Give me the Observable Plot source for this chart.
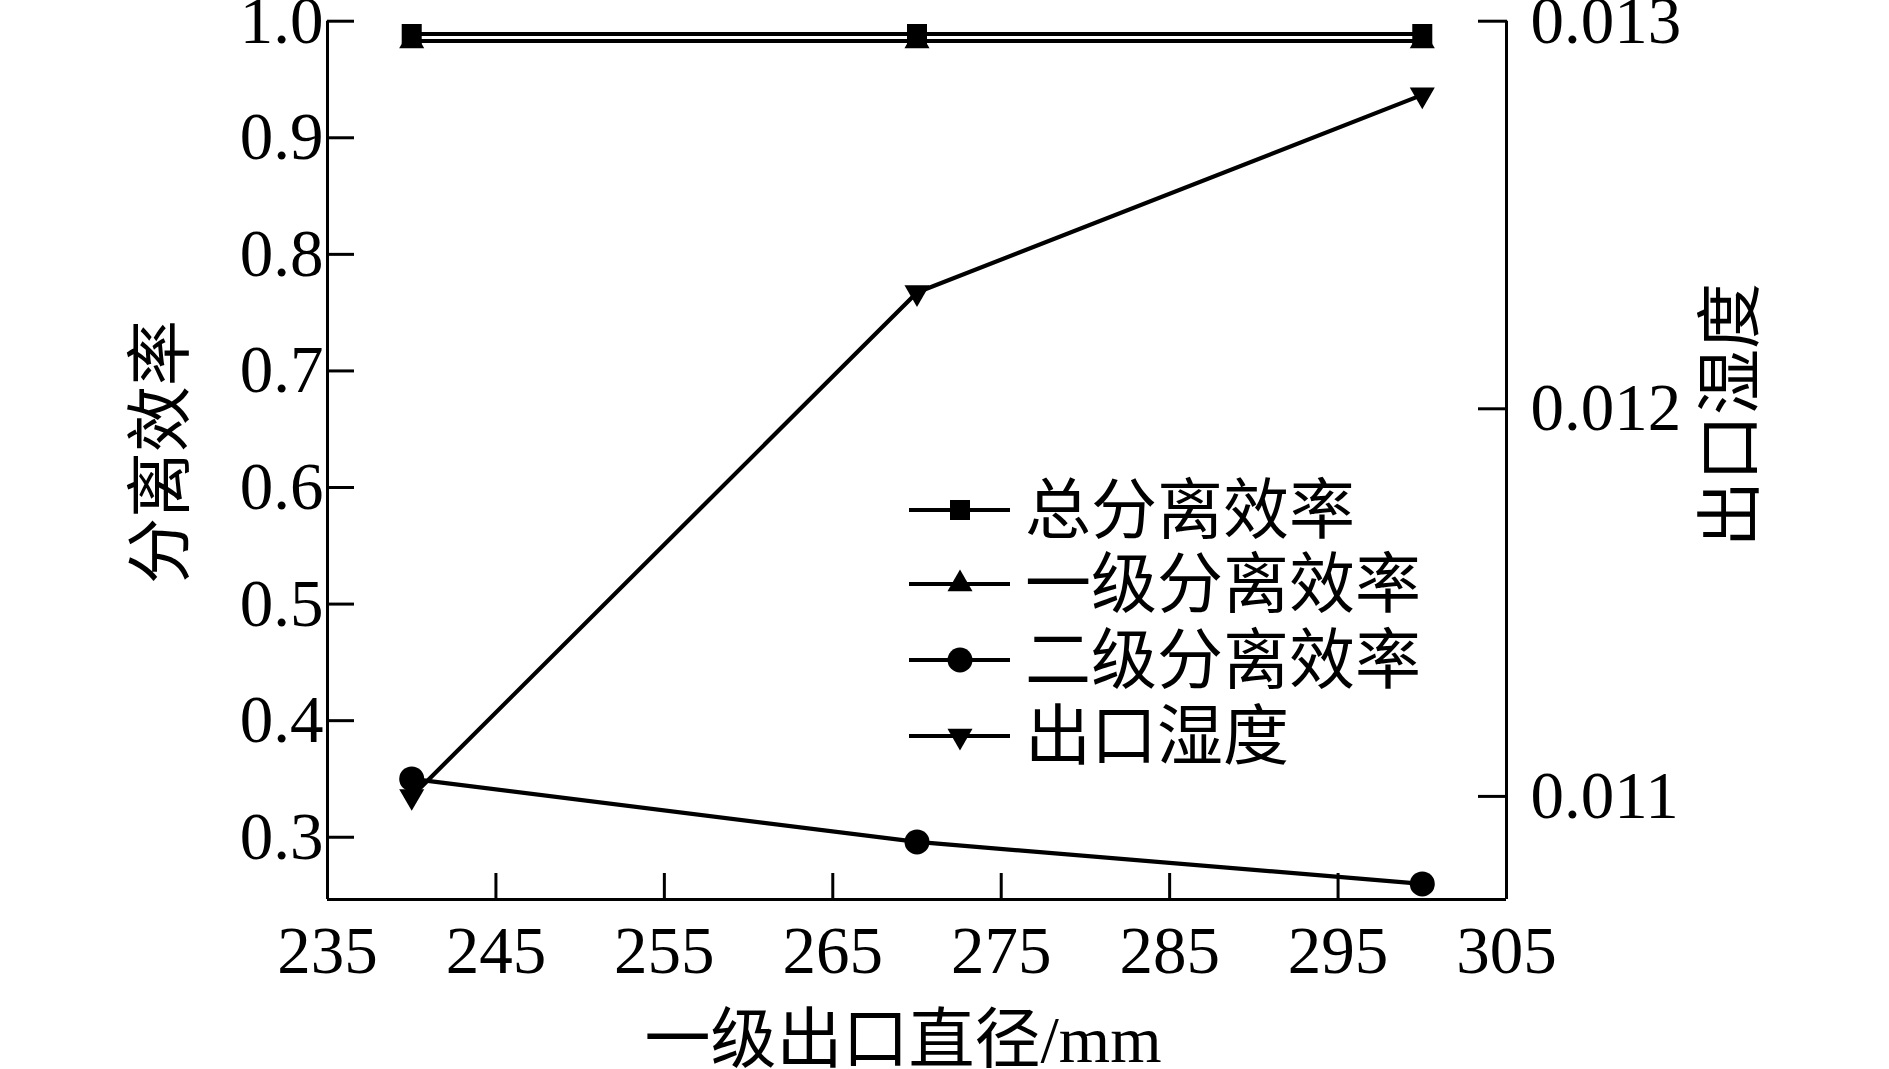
<!DOCTYPE html>
<html><head><meta charset="utf-8">
<script src="https://cdn.jsdelivr.net/npm/d3@7"></script>
<script src="https://cdn.jsdelivr.net/npm/@observablehq/plot@0.6"></script>
<style>
body{margin:0;background:#fff;}
#wrap{position:relative;width:1889px;height:1069px;overflow:hidden;background:#fff;}
#wrap svg{position:absolute;left:0;top:0;}
</style></head><body><div id="wrap"></div>
<script>
// ---- data ----
const diameters = [240, 270, 300];
const totalEff = [0.989, 0.989, 0.989];
const stage1Eff = [0.983, 0.983, 0.983];
const stage2Eff = [0.350, 0.296, 0.260];
const outletHumidity = [0.01100, 0.01230, 0.01281];
const seriesNames = ["总分离效率", "一级分离效率", "二级分离效率", "出口湿度"];
const xTicks = [235, 245, 255, 265, 275, 285, 295, 305];
const leftTicks = [0.3, 0.4, 0.5, 0.6, 0.7, 0.8, 0.9, 1.0];
const rightTicks = [0.011, 0.012, 0.013];
const xDomain = [235, 305];
const leftDomain = [0.2466, 1.0];
const rightDomain = [0.010734, 0.013];
const xTitle = "一级出口直径/mm";
const leftTitle = "分离效率";
const rightTitle = "出口湿度";

// map right-axis values onto the left scale
const toL = d3.scaleLinear().domain(rightDomain).range(leftDomain);

const rows = [];
diameters.forEach((d, i) => {
  rows.push({x: d, y: totalEff[i], s: seriesNames[0]});
  rows.push({x: d, y: stage1Eff[i], s: seriesNames[1]});
  rows.push({x: d, y: stage2Eff[i], s: seriesNames[2]});
  rows.push({x: d, y: toL(outletHumidity[i]), s: seriesNames[3]});
});
const of = (name) => rows.filter(r => r.s === name);

const serif = "'Liberation Serif', 'Times New Roman', 'Noto Sans CJK SC', serif";
const cjk = "'Liberation Serif', 'Noto Sans CJK SC', serif";

const W = 1889, H = 1069;
const chart = Plot.plot({
  width: W, height: H,
  marginLeft: 327, marginRight: 383, marginTop: 20.7, marginBottom: 170,
  style: {fontFamily: serif, fontSize: "67px", color: "black", background: "transparent"},
  x: {domain: xDomain},
  y: {domain: leftDomain},
  marks: [
    Plot.axisX({ticks: xTicks, tickSize: -26, tickPadding: 52, strokeWidth: 3, label: null, tickFormat: d3.format("d")}),
    Plot.axisY({ticks: leftTicks, tickSize: -27, tickPadding: 31, strokeWidth: 3, label: null, tickFormat: d3.format(".1f")}),
    Plot.axisY({anchor: "right", ticks: rightTicks.map(toL), tickSize: -29, tickPadding: 53, strokeWidth: 3, label: null,
                tickFormat: v => d3.format(".3f")(toL.invert(v))}),
    Plot.ruleX(xDomain, {stroke: "black", strokeWidth: 3}),
    Plot.ruleY([leftDomain[0]], {stroke: "black", strokeWidth: 3}),
    Plot.line(rows, {x: "x", y: "y", z: "s", stroke: "black", strokeWidth: 4.2}),
    Plot.dot(of(seriesNames[1]), {x: "x", y: "y", symbol: "triangle", r: 9.3, fill: "black"}),
    Plot.dot(of(seriesNames[0]), {x: "x", y: "y", symbol: "square", r: 11.3, fill: "black"}),
    Plot.dot(of(seriesNames[2]), {x: "x", y: "y", symbol: "circle", r: 12.5, fill: "black"}),
    Plot.dot(of(seriesNames[3]), {x: "x", y: "y", symbol: "triangle", r: 9.3, rotate: 180, fill: "black"})
  ]
});
const wrap = document.getElementById("wrap");
wrap.appendChild(chart);

// ---- overlay: axis titles and legend ----
const ov = d3.select(wrap).append("svg").attr("width", W).attr("height", H)
  .style("pointer-events", "none");
ov.append("text").attr("x", 903).attr("y", 1039).attr("text-anchor", "middle")
  .attr("dominant-baseline", "central").attr("font-family", cjk).attr("font-size", 66).text(xTitle);
ov.append("text").attr("transform", "translate(160,452) rotate(-90)").attr("text-anchor", "middle")
  .attr("dominant-baseline", "central").attr("font-family", cjk).attr("font-size", 66).text(leftTitle);
ov.append("text").attr("transform", "translate(1730,415) rotate(-90)").attr("text-anchor", "middle")
  .attr("dominant-baseline", "central").attr("font-family", cjk).attr("font-size", 66).text(rightTitle);

const legSyms = [
  {sym: d3.symbolSquare, r: 11.3, rot: 0},
  {sym: d3.symbolTriangle, r: 9.3, rot: 0},
  {sym: d3.symbolCircle, r: 12.5, rot: 0},
  {sym: d3.symbolTriangle, r: 9.3, rot: 180}
];
const legY = [510, 584, 660, 736];
seriesNames.forEach((name, i) => {
  const g = ov.append("g").attr("transform", `translate(0,${legY[i]})`);
  g.append("line").attr("x1", 909).attr("x2", 1010).attr("stroke", "black").attr("stroke-width", 4.2);
  g.append("path").attr("d", d3.symbol(legSyms[i].sym, legSyms[i].r * legSyms[i].r * Math.PI)())
    .attr("transform", `translate(960,0) rotate(${legSyms[i].rot})`).attr("fill", "black");
  g.append("text").attr("x", 1025).attr("y", 0).attr("dominant-baseline", "central")
    .attr("font-family", cjk).attr("font-size", 66).text(name);
});
</script></body></html>
